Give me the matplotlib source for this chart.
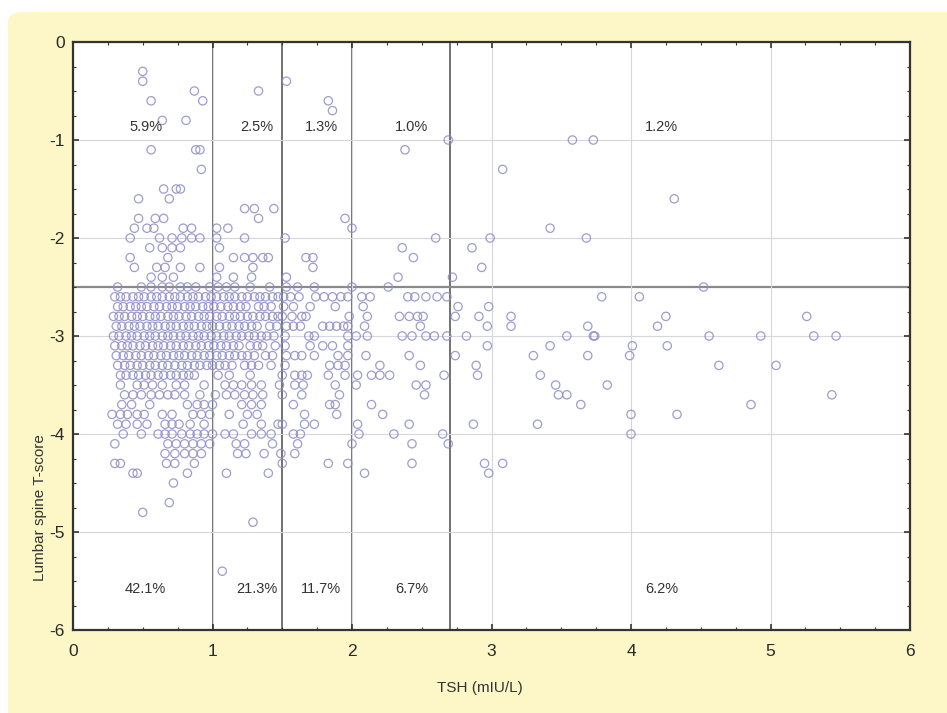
import numpy as np
import matplotlib
matplotlib.use("Agg")
import matplotlib.pyplot as plt
from matplotlib.patches import FancyBboxPatch

plt.rcParams['font.family'] = ['Liberation Sans', 'DejaVu Sans']
plt.rcParams['axes.unicode_minus'] = False

# T-score levels (the scores are recorded in steps of 0.1)
tscore_levels = [
    -0.3, -0.4, -0.5, -0.6, -0.7, -0.8, -1.0, -1.1, -1.3, -1.5, -1.6, -1.7,
    -1.8, -1.9, -2.0, -2.1, -2.2, -2.3, -2.4, -2.5, -2.6, -2.7, -2.8, -2.9,
    -3.0, -3.1, -3.2, -3.3, -3.4, -3.5, -3.6, -3.7, -3.8, -3.9, -4.0, -4.1,
    -4.2, -4.3, -4.4, -4.5, -4.7, -4.8, -4.9, -5.4,
]

# TSH values of the patients found on each T-score level (same order)
tsh_rows = [
    [0.50],
    [0.50, 1.53],
    [0.87, 1.33],
    [0.56, 0.93, 1.83],
    [1.86],
    [0.64, 0.81],
    [2.69, 3.58, 3.73],
    [0.56, 0.88, 0.91, 2.38],
    [0.92, 3.08],
    [0.65, 0.74, 0.77],
    [0.47, 0.69, 4.31],
    [1.23, 1.30, 1.44],
    [0.47, 0.59, 0.65, 1.33, 1.95],
    [0.44, 0.53, 0.58, 0.79, 0.85, 1.03, 1.11, 2.00, 3.42],
    [0.41, 0.62, 0.71, 0.78, 0.85, 0.91, 1.03, 1.23, 1.52, 2.60, 2.99, 3.68],
    [0.55, 0.64, 0.71, 0.77, 1.05, 2.36, 2.86],
    [0.41, 0.68, 1.15, 1.23, 1.29, 1.36, 1.40, 1.67, 1.72, 2.44],
    [0.44, 0.60, 0.66, 0.77, 0.91, 1.05, 1.29, 1.72, 2.93],
    [0.56, 0.64, 0.72, 1.03, 1.15, 1.28, 1.53, 2.33, 2.72],
    [0.32, 0.49, 0.56, 0.64, 0.69, 0.77, 0.82, 0.88, 0.98, 1.04, 1.10, 1.16,
     1.27, 1.41, 1.53, 1.61, 1.73, 2.00, 2.26, 4.52],
    [0.30, 0.34, 0.38, 0.43, 0.47, 0.51, 0.56, 0.60, 0.64, 0.69, 0.73, 0.77,
     0.82, 0.86, 0.90, 0.95, 0.99, 1.03, 1.08, 1.12, 1.16, 1.21, 1.25, 1.30,
     1.34, 1.38, 1.43, 1.47, 1.51, 1.56, 1.62, 1.74, 1.80, 1.86, 1.92, 1.97,
     2.07, 2.13, 2.40, 2.45, 2.53, 2.61, 2.68, 3.79, 4.06],
    [0.32, 0.36, 0.41, 0.45, 0.49, 0.53, 0.58, 0.62, 0.67, 0.71, 0.75, 0.80,
     0.84, 0.88, 0.93, 0.97, 1.01, 1.06, 1.11, 1.15, 1.20, 1.24, 1.33, 1.37,
     1.42, 1.51, 1.58, 1.70, 1.88, 2.08, 2.76, 2.98],
    [0.29, 0.33, 0.37, 0.42, 0.46, 0.50, 0.55, 0.59, 0.63, 0.68, 0.72, 0.76,
     0.81, 0.85, 0.90, 0.94, 0.98, 1.03, 1.07, 1.12, 1.16, 1.20, 1.25, 1.29,
     1.34, 1.38, 1.43, 1.47, 1.50, 1.57, 1.64, 1.67, 1.98, 2.11, 2.34, 2.41,
     2.47, 2.51, 2.74, 2.91, 3.14, 4.25, 5.26],
    [0.31, 0.35, 0.40, 0.44, 0.48, 0.53, 0.57, 0.61, 0.66, 0.70, 0.74, 0.79,
     0.83, 0.87, 0.92, 0.96, 1.00, 1.05, 1.10, 1.14, 1.19, 1.23, 1.28, 1.32,
     1.41, 1.46, 1.53, 1.58, 1.63, 1.79, 1.84, 1.89, 1.94, 1.97, 2.09, 2.49,
     2.97, 3.14, 3.69, 4.19],
    [0.29, 0.33, 0.38, 0.42, 0.46, 0.51, 0.55, 0.59, 0.64, 0.68, 0.72, 0.77,
     0.81, 0.86, 0.90, 0.94, 0.99, 1.03, 1.08, 1.12, 1.17, 1.21, 1.26, 1.30,
     1.35, 1.39, 1.44, 1.52, 1.69, 1.73, 1.97, 2.03, 2.11, 2.36, 2.43, 2.53,
     2.59, 2.68, 2.82, 3.54, 3.73, 3.74, 4.56, 4.93, 5.31, 5.47],
    [0.30, 0.35, 0.39, 0.43, 0.48, 0.52, 0.57, 0.61, 0.65, 0.70, 0.74, 0.79,
     0.83, 0.88, 0.92, 0.97, 1.01, 1.06, 1.10, 1.15, 1.19, 1.27, 1.32, 1.36,
     1.45, 1.52, 1.70, 1.79, 1.86, 1.97, 2.97, 3.42, 4.01, 4.26],
    [0.31, 0.36, 0.40, 0.45, 0.49, 0.54, 0.58, 0.63, 0.67, 0.72, 0.76, 0.80,
     0.85, 0.89, 0.94, 0.98, 1.03, 1.07, 1.12, 1.16, 1.21, 1.25, 1.30, 1.38,
     1.43, 1.53, 1.59, 1.64, 1.73, 1.90, 1.97, 2.10, 2.41, 2.74, 3.30, 3.69,
     3.99],
    [0.32, 0.37, 0.41, 0.46, 0.50, 0.55, 0.59, 0.64, 0.68, 0.73, 0.78, 0.82,
     0.87, 0.91, 0.96, 1.00, 1.05, 1.09, 1.14, 1.23, 1.28, 1.33, 1.42, 1.52,
     1.84, 1.90, 1.95, 2.20, 2.49, 2.89, 4.63, 5.04],
    [0.34, 0.38, 0.43, 0.47, 0.52, 0.56, 0.61, 0.65, 0.70, 0.74, 0.79, 0.83,
     0.87, 1.04, 1.12, 1.27, 1.50, 1.59, 1.64, 1.68, 1.83, 1.95, 2.04, 2.14,
     2.20, 2.27, 2.66, 2.90, 3.35],
    [0.34, 0.46, 0.51, 0.57, 0.64, 0.74, 0.80, 0.94, 1.09, 1.15, 1.21, 1.28,
     1.35, 1.48, 1.59, 1.65, 1.88, 2.03, 2.46, 2.53, 3.46, 3.83],
    [0.37, 0.43, 0.49, 0.56, 0.62, 0.68, 0.73, 0.80, 0.91, 1.02, 1.10, 1.16,
     1.23, 1.29, 1.36, 1.50, 1.64, 1.91, 2.52, 3.48, 3.54, 5.44],
    [0.35, 0.42, 0.55, 0.82, 0.89, 0.94, 1.00, 1.21, 1.28, 1.35, 1.58, 1.84,
     1.88, 2.14, 3.64, 4.86],
    [0.28, 0.34, 0.39, 0.46, 0.51, 0.64, 0.71, 0.86, 0.92, 0.98, 1.12, 1.25,
     1.32, 1.66, 1.89, 2.22, 4.00, 4.33],
    [0.32, 0.38, 0.46, 0.53, 0.66, 0.71, 0.76, 0.84, 0.94, 1.22, 1.35, 1.47,
     1.50, 1.66, 1.73, 2.04, 2.41, 2.87, 3.33],
    [0.36, 0.49, 0.61, 0.66, 0.71, 0.78, 0.84, 0.89, 0.94, 1.00, 1.09, 1.15,
     1.28, 1.35, 1.42, 1.58, 1.63, 2.05, 2.30, 2.65, 4.00],
    [0.30, 0.68, 0.74, 0.80, 0.86, 0.92, 0.98, 1.17, 1.23, 1.43, 1.61, 2.00,
     2.43, 2.69],
    [0.66, 0.73, 0.80, 0.86, 0.92, 1.18, 1.24, 1.37, 1.49, 1.59],
    [0.30, 0.34, 0.67, 0.73, 0.87, 1.50, 1.83, 1.97, 2.43, 2.95, 3.08],
    [0.43, 0.46, 0.82, 1.10, 1.40, 2.09, 2.98],
    [0.72],
    [0.69],
    [0.50],
    [1.29],
    [1.07],
]

# TSH cut-offs and the osteoporosis T-score threshold
tsh_cuts = [1.0, 1.5, 2.0, 2.7]
tscore_cut = -2.5

# share of patients in each TSH band, above / below the T-score threshold
band_centres = [0.52, 1.32, 1.78, 2.43, 4.22]
pct_upper = ['5.9%', '2.5%', '1.3%', '1.0%', '1.2%']
pct_lower = ['42.1%', '21.3%', '11.7%', '6.7%', '6.2%']

tsh = np.concatenate([np.array(r) for r in tsh_rows])
tscore = np.concatenate([np.full(len(r), lv) for lv, r in zip(tscore_levels, tsh_rows)])

fig = plt.figure(figsize=(9.47, 7.13), dpi=100, facecolor='white')

# pale yellow panel behind the chart
panel = FancyBboxPatch((8 / 947, -0.05), 1.1, 1 - 12 / 713 + 0.05,
                       boxstyle='round,pad=0,rounding_size=0.015',
                       transform=fig.transFigure, facecolor='#fdf6c6',
                       edgecolor='none', zorder=-10)
fig.patches.append(panel)

ax = fig.add_axes([73 / 947, 1 - 630 / 713, (910 - 73) / 947, (630 - 42) / 713])
ax.set_facecolor('white')

ax.grid(True, color='#d6d6dc', linewidth=0.8, zorder=0)
for c in tsh_cuts:
    ax.axvline(c, color='#5a5a5a', linewidth=1.2, zorder=1)
ax.axhline(tscore_cut, color='#8a8a8a', linewidth=1.6, zorder=1)

ax.scatter(tsh, tscore, s=36, facecolors='none', edgecolors='#8c8cc8',
           linewidths=0.9, alpha=0.85, zorder=3)

for xc, up, lo in zip(band_centres, pct_upper, pct_lower):
    ax.text(xc, -0.87, up, ha='center', va='center', fontsize=10.5, color='#333333', zorder=4)
    ax.text(xc, -5.58, lo, ha='center', va='center', fontsize=10.5, color='#333333', zorder=4)

ax.set_xlim(0, 6)
ax.set_ylim(-6, 0)
ax.set_xticks(range(0, 7))
ax.set_yticks(range(-6, 1))
ax.set_xticks(np.arange(0, 6.01, 0.25), minor=True)
ax.set_yticks(np.arange(-6, 0.01, 0.25), minor=True)
ax.tick_params(which='both', direction='in', top=True, right=True, color='#333333')
ax.tick_params(which='major', length=4, width=1.2, labelsize=12.5, labelcolor='#2a2a2a')
ax.tick_params(axis='x', which='major', pad=10)
ax.tick_params(axis='y', which='major', pad=6)
ax.tick_params(which='minor', length=2.5, width=0.8)
for sp in ax.spines.values():
    sp.set_color('#333333')
    sp.set_linewidth(1.6)

fig.text(480 / 947, 1 - 688 / 713, 'TSH (mIU/L)', ha='center', va='center',
         fontsize=11, color='#333333')
fig.text(40 / 947, 1 - 508 / 713, 'Lumbar spine T-score', ha='center', va='center',
         rotation=90, fontsize=11, color='#333333')

fig.savefig('out.png', dpi=100, facecolor=fig.get_facecolor())
